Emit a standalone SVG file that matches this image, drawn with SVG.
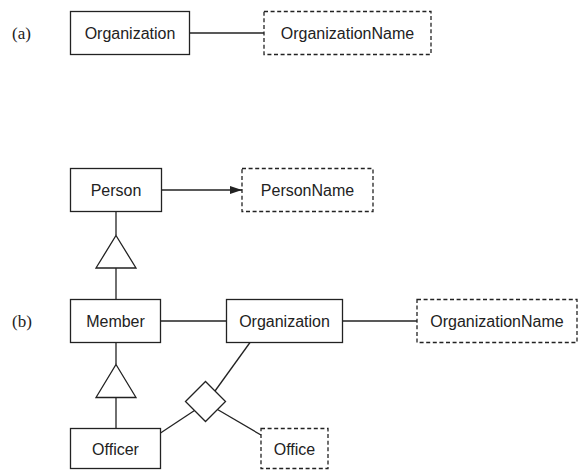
<svg xmlns="http://www.w3.org/2000/svg" width="579" height="472" viewBox="0 0 579 472">
<defs>
<style>
.box{fill:#fff;stroke:#222;stroke-width:1.3}
.dash{fill:#fff;stroke:#222;stroke-width:1.3;stroke-dasharray:4 2.6}
.ln{fill:none;stroke:#222;stroke-width:1.3}
.tri{fill:#fff;stroke:#222;stroke-width:1.3;stroke-linejoin:miter}
.t{font-family:"Liberation Sans",Arial,sans-serif;font-size:16px;fill:#222;text-anchor:middle;dominant-baseline:central}
.lbl{font-family:"Liberation Serif","Times New Roman",serif;font-size:17px;fill:#222;dominant-baseline:central}
</style>
<marker id="arr" viewBox="0 0 12 8" refX="12" refY="4" markerWidth="12" markerHeight="8" markerUnits="userSpaceOnUse" orient="auto">
<path d="M0,0 L12,4 L0,8 Z" fill="#222"/>
</marker>
</defs>
<text class="lbl" x="12" y="33">(a)</text>
<text class="lbl" x="12" y="321">(b)</text>
<g id="connectors">
<line class="ln" x1="189.5" y1="33" x2="264" y2="33"/>
<line class="ln" x1="161.5" y1="190" x2="242" y2="190" marker-end="url(#arr)"/>
<line class="ln" x1="116" y1="211.5" x2="116" y2="235.5"/>
<polygon class="tri" points="116,235.5 136,268 96,268"/>
<line class="ln" x1="116" y1="268" x2="116" y2="299.5"/>
<line class="ln" x1="160.5" y1="321" x2="226.5" y2="321"/>
<line class="ln" x1="342.5" y1="321" x2="417" y2="321"/>
<line class="ln" x1="116" y1="342.5" x2="116" y2="364.5"/>
<polygon class="tri" points="116,364.5 136,397.5 96,397.5"/>
<line class="ln" x1="116" y1="397.5" x2="116" y2="428.5"/>
<line class="ln" x1="250" y1="342.5" x2="215" y2="391"/>
<line class="ln" x1="160.5" y1="433" x2="194.5" y2="410.5"/>
<line class="ln" x1="217.5" y1="409.5" x2="261" y2="435"/>
</g>
<g id="diamond"><polygon class="tri" points="185.5,401.5 205.5,381.5 225.5,401.5 205.5,421.5"/></g>
<g id="organization-a"><rect class="box" x="70.5" y="11.5" width="119" height="43"/><text class="t" x="130" y="33">Organization</text></g>
<g id="organizationname-a"><rect class="dash" x="264" y="11.5" width="167" height="43"/><text class="t" x="347.5" y="33">OrganizationName</text></g>
<g id="person"><rect class="box" x="70.5" y="168.5" width="91" height="43"/><text class="t" x="116" y="190">Person</text></g>
<g id="personname"><rect class="dash" x="242" y="168.5" width="131" height="43"/><text class="t" x="307.5" y="190">PersonName</text></g>
<g id="member"><rect class="box" x="70.5" y="299.5" width="90" height="43"/><text class="t" x="115.5" y="321">Member</text></g>
<g id="organization-b"><rect class="box" x="226.5" y="299.5" width="116" height="43"/><text class="t" x="284.5" y="321">Organization</text></g>
<g id="organizationname-b"><rect class="dash" x="417" y="299.5" width="160" height="43"/><text class="t" x="497" y="321">OrganizationName</text></g>
<g id="officer"><rect class="box" x="70.5" y="428.5" width="90" height="40"/><text class="t" x="115.5" y="449">Officer</text></g>
<g id="office"><rect class="dash" x="261" y="428.5" width="67" height="40"/><text class="t" x="294.5" y="449">Office</text></g>
</svg>
